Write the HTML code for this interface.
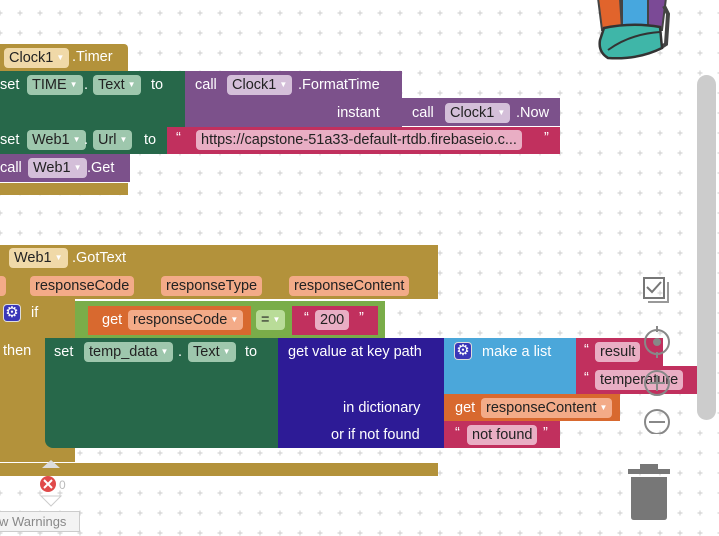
<!DOCTYPE html>
<html><head><meta charset="utf-8"><style>
body{margin:0;width:719px;height:536px;overflow:hidden;background:#fff;position:relative;font-family:"Liberation Sans",sans-serif;font-size:14.5px;color:#fff}
.b{position:absolute}
.t{position:absolute;white-space:nowrap;line-height:18px}
.f{position:absolute;border-radius:4px;color:#222;white-space:nowrap;line-height:20px;height:20px;padding:0 5px;box-sizing:border-box}
.f i{font-style:normal;font-size:8px;color:#fff;margin-left:3px;vertical-align:2px}
.gold{background:#b3923b}.grn{background:#27684a}.pur{background:#7c518b}.pink{background:#c1305e}
.org{background:#d8692f}.lg{background:#7aad49}.ind{background:#2d1b96}.blu{background:#4ba7da}
.fg{background:#9ec7ad}.fp{background:#d4bfd9}.fo{background:#f0d9a8}.fk{background:#e9aec4}.fr{background:#f3ab88}
</style></head><body>
<svg class="b" style="left:0;top:0" width="719" height="536"><defs><pattern id="p" width="20" height="20" patternUnits="userSpaceOnUse" x="0" y="13"><path d="M0 -2.5V2.5M-2.5 0H2.5M20 -2.5V2.5M17.5 0H22.5M0 17.5V22.5M-2.5 20H2.5M20 17.5V22.5M17.5 20H22.5" stroke="#d4d4d4" stroke-width="1.2"/></pattern></defs><rect width="719" height="536" fill="url(#p)"/></svg>

<!-- top group -->
<div class="b gold" style="left:0;top:44px;width:128px;height:27px;border-radius:0 4px 0 0"></div>
<div class="f fo" style="left:4px;top:48px">Clock1<i>▼</i></div>
<div class="t" style="left:72px;top:48px">.Timer</div>
<div class="b gold" style="left:0;top:183px;width:128px;height:12px"></div>
<div class="b grn" style="left:0;top:71px;width:186px;height:56px"></div>
<div class="t" style="left:0;top:76px">set</div>
<div class="f fg" style="left:27px;top:75px">TIME<i>▼</i></div>
<div class="t" style="left:84px;top:76px">.</div>
<div class="f fg" style="left:93px;top:75px">Text<i>▼</i></div>
<div class="t" style="left:151px;top:76px">to</div>
<div class="b pur" style="left:185px;top:71px;width:217px;height:56px"></div>
<div class="t" style="left:195px;top:76px">call</div>
<div class="f fp" style="left:227px;top:75px">Clock1<i>▼</i></div>
<div class="t" style="left:298px;top:76px">.FormatTime</div>
<div class="t" style="left:337px;top:104px">instant</div>
<div class="b pur" style="left:402px;top:98px;width:158px;height:28px"></div>
<div class="t" style="left:412px;top:104px">call</div>
<div class="f fp" style="left:445px;top:103px">Clock1<i>▼</i></div>
<div class="t" style="left:516px;top:104px">.Now</div>
<div class="b grn" style="left:0;top:127px;width:168px;height:27px"></div>
<div class="t" style="left:0;top:131px">set</div>
<div class="f fg" style="left:27px;top:130px">Web1<i>▼</i></div>
<div class="t" style="left:84px;top:131px">.</div>
<div class="f fg" style="left:93px;top:130px">Url<i>▼</i></div>
<div class="t" style="left:144px;top:131px">to</div>
<div class="b pink" style="left:167px;top:127px;width:393px;height:27px"></div>
<div class="t" style="left:176px;top:129px">“</div>
<div class="f fk" style="left:196px;top:130px">https://capstone-51a33-default-rtdb.firebaseio.c...</div>
<div class="t" style="left:544px;top:129px">”</div>
<div class="b pur" style="left:0;top:154px;width:130px;height:28px"></div>
<div class="t" style="left:0;top:159px">call</div>
<div class="f fp" style="left:28px;top:158px">Web1<i>▼</i></div>
<div class="t" style="left:87px;top:159px">.Get</div>

<!-- bottom group -->
<div class="b gold" style="left:0;top:245px;width:438px;height:54px"></div>
<div class="f fo" style="left:9px;top:248px">Web1<i>▼</i></div>
<div class="t" style="left:72px;top:249px">.GotText</div>
<div class="f fr" style="left:-4px;top:276px;width:10px"></div>
<div class="f fr" style="left:30px;top:276px">responseCode</div>
<div class="f fr" style="left:161px;top:276px">responseType</div>
<div class="f fr" style="left:289px;top:276px">responseContent</div>
<div class="b gold" style="left:0;top:299px;width:75px;height:163px"></div>
<div class="b gold" style="left:0;top:463px;width:438px;height:13px"></div>
<div class="b" style="left:4px;top:305px;width:16px;height:16px;background:#3a37b8;border-radius:3px;color:#fff;font-size:15px;line-height:16px;text-align:center;box-shadow:0 0 0 1px #ddd">⚙</div>
<div class="t" style="left:31px;top:304px">if</div>
<div class="t" style="left:3px;top:342px">then</div>
<div class="b lg" style="left:75px;top:301px;width:310px;height:37px"></div>
<div class="b org" style="left:88px;top:306px;width:163px;height:29px"></div>
<div class="t" style="left:102px;top:311px">get</div>
<div class="f fr" style="left:128px;top:310px">responseCode<i>▼</i></div>
<div class="f" style="left:256px;top:310px;background:#b9dc98">=<i>▼</i></div>
<div class="b pink" style="left:292px;top:306px;width:86px;height:29px"></div>
<div class="t" style="left:304px;top:309px">“</div>
<div class="f fk" style="left:315px;top:310px">200</div>
<div class="t" style="left:359px;top:309px">”</div>
<div class="b grn" style="left:45px;top:338px;width:234px;height:110px;border-radius:0 0 0 8px"></div>
<div class="t" style="left:54px;top:343px">set</div>
<div class="f fg" style="left:84px;top:342px">temp_data<i>▼</i></div>
<div class="t" style="left:178px;top:343px">.</div>
<div class="f fg" style="left:188px;top:342px">Text<i>▼</i></div>
<div class="t" style="left:245px;top:343px">to</div>
<div class="b ind" style="left:278px;top:338px;width:166px;height:110px"></div>
<div class="t" style="left:288px;top:343px">get value at key path</div>
<div class="t" style="left:343px;top:399px">in dictionary</div>
<div class="t" style="left:331px;top:426px">or if not found</div>
<div class="b blu" style="left:444px;top:338px;width:134px;height:56px"></div>
<div class="b" style="left:455px;top:343px;width:16px;height:16px;background:#3a37b8;border-radius:3px;color:#fff;font-size:15px;line-height:16px;text-align:center;box-shadow:0 0 0 1px #ddd">⚙</div>
<div class="t" style="left:482px;top:343px">make a list</div>
<div class="b pink" style="left:576px;top:338px;width:87px;height:28px"></div>
<div class="t" style="left:584px;top:341px">“</div>
<div class="f fk" style="left:595px;top:342px">result</div>
<div class="b pink" style="left:576px;top:366px;width:121px;height:28px"></div>
<div class="t" style="left:584px;top:369px">“</div>
<div class="f fk" style="left:595px;top:370px">temperature</div>
<div class="b org" style="left:444px;top:394px;width:176px;height:27px"></div>
<div class="t" style="left:455px;top:399px">get</div>
<div class="f fr" style="left:481px;top:398px">responseContent<i>▼</i></div>
<div class="b pink" style="left:444px;top:421px;width:116px;height:27px"></div>
<div class="t" style="left:455px;top:424px">“</div>
<div class="f fk" style="left:467px;top:425px">not found</div>
<div class="t" style="left:543px;top:424px">”</div>

<!-- warnings -->
<svg class="b" style="left:30px;top:456px" width="60" height="56">
<path d="M12 12 L21 4 L30 12Z" fill="#ddd"/>
<circle cx="18" cy="28" r="8" fill="#e04a4a"/><path d="M14 24l8 8M22 24l-8 8" stroke="#fff" stroke-width="2"/>
<text x="29" y="33" fill="#bbb" font-size="12" font-family="Liberation Sans">0</text>
<path d="M11 40 L31 40 L21 50Z" fill="none" stroke="#ccc"/></svg>
<div class="b" style="left:-2px;top:511px;width:80px;height:19px;border:1px solid #ccc;background:#f3f3f3;color:#888;font-size:13px;line-height:19px">w Warnings</div>

<!-- right controls -->
<div class="b" style="left:697px;top:75px;width:19px;height:345px;background:#ccc;border-radius:10px"></div>
<svg class="b" style="left:578px;top:0" width="92" height="62">
<path d="M20 -2 L42 -2 L44 30 L24 30Z" fill="#e1642c" stroke="#444" stroke-width="2"/>
<rect x="44" y="-2" width="26" height="32" fill="#47a7de" stroke="#444" stroke-width="2"/>
<path d="M70 -2 L88 -2 L84 30 L70 30Z" fill="#7b4a96" stroke="#444" stroke-width="2"/>
<path d="M86 6 L90 14 L88 44 L82 48" fill="none" stroke="#444" stroke-width="4"/>
<path d="M26 28 Q54 22 82 27 L84 48 Q60 60 30 58 Q20 52 22 40Z" fill="#3fb6a8" stroke="#333" stroke-width="2.5"/>
<path d="M30 50 Q52 34 82 32" fill="none" stroke="#333" stroke-width="2"/></svg>
<svg class="b" style="left:640px;top:274px" width="36" height="160">
<rect x="4" y="4" width="20" height="20" fill="none" stroke="#777" stroke-width="2"/><path d="M7 13l5 5 9-10" stroke="#777" stroke-width="2" fill="none"/><path d="M8 28h20V8" stroke="#999" stroke-width="2" fill="none"/>
<circle cx="17" cy="68" r="12" fill="none" stroke="#888" stroke-width="2"/><circle cx="17" cy="68" r="4" fill="#888"/><path d="M17 52v6M17 78v6" stroke="#888" stroke-width="2"/>
<circle cx="17" cy="109" r="12" fill="none" stroke="#888" stroke-width="2"/><path d="M17 101v16M9 109h16" stroke="#888" stroke-width="2"/>
<circle cx="17" cy="148" r="12" fill="none" stroke="#888" stroke-width="2"/><path d="M9 148h16" stroke="#888" stroke-width="2"/></svg>
<svg class="b" style="left:626px;top:463px" width="46" height="60">
<rect x="2" y="6" width="42" height="5" fill="#777"/><rect x="14" y="1" width="18" height="6" fill="#777"/>
<path d="M5 14h36v40q0 3-3 3H8q-3 0-3-3Z" fill="#777"/></svg>
</body></html>
